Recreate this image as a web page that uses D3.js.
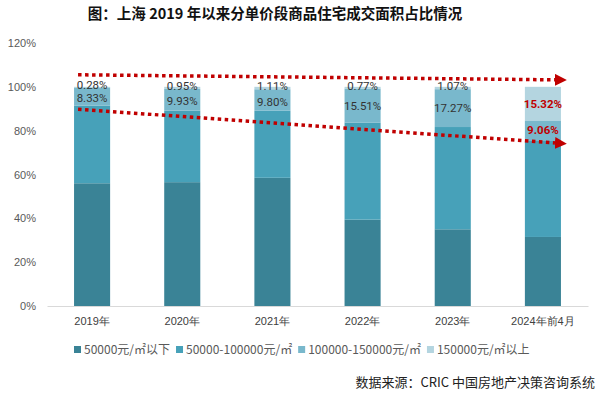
<!DOCTYPE html>
<html>
<head>
<meta charset="utf-8">
<script src="https://cdn.jsdelivr.net/npm/d3@7"></script>
<style>
  body { margin: 0; background: #fff; }
  svg { display: block; font-family: "Noto Sans CJK SC", "Noto Sans", sans-serif; }
</style>
</head>
<body>
<svg width="600" height="397"></svg>
<script>
// 数据
var years = ["2019年", "2020年", "2021年", "2022年", "2023年", "2024年前4月"];
var seriesNames = ["50000元/㎡以下", "50000-100000元/㎡", "100000-150000元/㎡", "150000元/㎡以上"];
var below50k = [56.0, 56.5, 58.5, 39.4, 35.0, 31.5];
var from50to100k = [35.39, 32.62, 30.59, 44.32, 46.66, 44.12];
var from100to150k = [8.33, 9.93, 9.80, 15.51, 17.27, 9.06];
var above150k = [0.28, 0.95, 1.11, 0.77, 1.07, 15.32];
var yTicks = [0, 20, 40, 60, 80, 100, 120];
// 趋势箭头 (起点年份, 起点值, 终点年份, 终点值)
var trendTop = [{ year: "2019年", value: 105.5 }, { year: "2024年前4月", value: 103.2 }];
var trendBottom = [{ year: "2019年", value: 89.8 }, { year: "2024年前4月", value: 74.4 }];

var colors = ["#3a8396", "#47a1b9", "#79b8cc", "#b4d5e0"];

var svg = d3.select("svg");
var margin = { top: 43, right: 12, bottom: 91, left: 47 };
var width = +svg.attr("width") - margin.left - margin.right;
var height = +svg.attr("height") - margin.top - margin.bottom;

var rows = years.map(function (y, i) {
    return { year: y, s0: below50k[i], s1: from50to100k[i], s2: from100to150k[i], s3: above150k[i] };
});
var stack = d3.stack().keys(["s0", "s1", "s2", "s3"]);
var layers = stack(rows);

var x = d3.scaleBand().domain(years).range([0, width]).paddingInner(0.6).paddingOuter(0.3);
var y = d3.scaleLinear().domain([0, 120]).range([height, 0]);

// 标题
svg.append("text")
    .attr("x", 275).attr("y", 19)
    .attr("text-anchor", "middle")
    .attr("font-size", 14.5).attr("font-weight", "bold")
    .attr("fill", "#111")
    .text("图：上海 2019 年以来分单价段商品住宅成交面积占比情况");

var g = svg.append("g").attr("transform", "translate(" + margin.left + "," + margin.top + ")");

// y轴
g.append("g")
    .call(d3.axisLeft(y).tickValues(yTicks).tickFormat(function (d) { return d + "%"; }).tickSize(0).tickPadding(11))
    .call(function (a) { a.select(".domain").remove(); })
    .selectAll("text").attr("font-size", 11).attr("fill", "#595959");

// 柱子
g.selectAll(".layer")
    .data(layers)
    .enter().append("g")
    .attr("class", "layer")
    .attr("fill", function (d, i) { return colors[i]; })
    .selectAll("rect")
    .data(function (d) { return d; })
    .enter().append("rect")
    .attr("x", function (d) { return x(d.data.year); })
    .attr("y", function (d) { return y(d[1]); })
    .attr("width", x.bandwidth())
    .attr("height", function (d) { return y(d[0]) - y(d[1]); });

// x轴
g.append("g")
    .attr("transform", "translate(0," + height + ")")
    .call(d3.axisBottom(x).tickSize(0).tickPadding(11))
    .call(function (a) { a.select(".domain").attr("stroke", "#d9d9d9"); })
    .selectAll("text").attr("font-size", 11).attr("fill", "#404040");

// 数据标签 (上面两段)；很薄的顶段标签略微上移
[2, 3].forEach(function (k) {
    g.selectAll(".lbl" + k)
        .data(layers[k])
        .enter().append("text")
        .attr("x", function (d) { return x(d.data.year) + x.bandwidth() / 2; })
        .attr("y", function (d) {
            var cy = y((d[0] + d[1]) / 2);
            if (k === 3 && d[1] - d[0] < 3) cy -= 2;
            if (k === 2 && d.data.s3 < 3 && d[1] - d[0] < 12) cy += 1.5;
            return cy;
        })
        .attr("dy", "0.35em")
        .attr("text-anchor", "middle")
        .attr("font-family", "Roboto, sans-serif")
        .attr("font-size", 11.5)
        .attr("font-weight", function (d, i) { return i === years.length - 1 ? "bold" : "normal"; })
        .attr("fill", function (d, i) { return i === years.length - 1 ? "#c00000" : "#333"; })
        .text(function (d) { return (d[1] - d[0]).toFixed(2) + "%"; });
});

// 趋势箭头
svg.append("defs").append("marker")
    .attr("id", "arrow")
    .attr("viewBox", "0 0 10 10")
    .attr("refX", 0).attr("refY", 5)
    .attr("markerWidth", 3.4).attr("markerHeight", 3.4)
    .attr("markerUnits", "strokeWidth")
    .attr("orient", "auto")
    .append("path").attr("d", "M0,0L10,5L0,10Z").attr("fill", "#c00000");

var line = d3.line()
    .x(function (d, i) { return i === 0 ? x(d.year) + 4 : x(d.year) + x.bandwidth() - 6; })
    .y(function (d) { return y(d.value); });

[trendTop, trendBottom].forEach(function (t) {
    g.append("path")
        .attr("d", line(t))
        .attr("fill", "none")
        .attr("stroke", "#c00000")
        .attr("stroke-width", 3.5)
        .attr("stroke-dasharray", "3.5,3.5")
        .attr("marker-end", "url(#arrow)");
});

// 图例
var legend = svg.append("g").attr("transform", "translate(74,350)");
var lx = 0;
seriesNames.forEach(function (name, i) {
    var item = legend.append("g").attr("transform", "translate(" + lx + ",0)");
    item.append("rect").attr("x", 0).attr("y", -4).attr("width", 7).attr("height", 7).attr("fill", colors[i]);
    var t = item.append("text").attr("x", 10).attr("y", 0).attr("dy", "0.35em")
        .attr("font-size", 12).attr("fill", "#595959").text(name);
    lx += 10 + t.node().getComputedTextLength() + 6;
});

// 数据来源
svg.append("text")
    .attr("x", 595).attr("y", 382).attr("dy", "0.35em")
    .attr("text-anchor", "end")
    .attr("font-size", 13).attr("fill", "#222")
    .text("数据来源：CRIC 中国房地产决策咨询系统");
</script>
</body>
</html>
